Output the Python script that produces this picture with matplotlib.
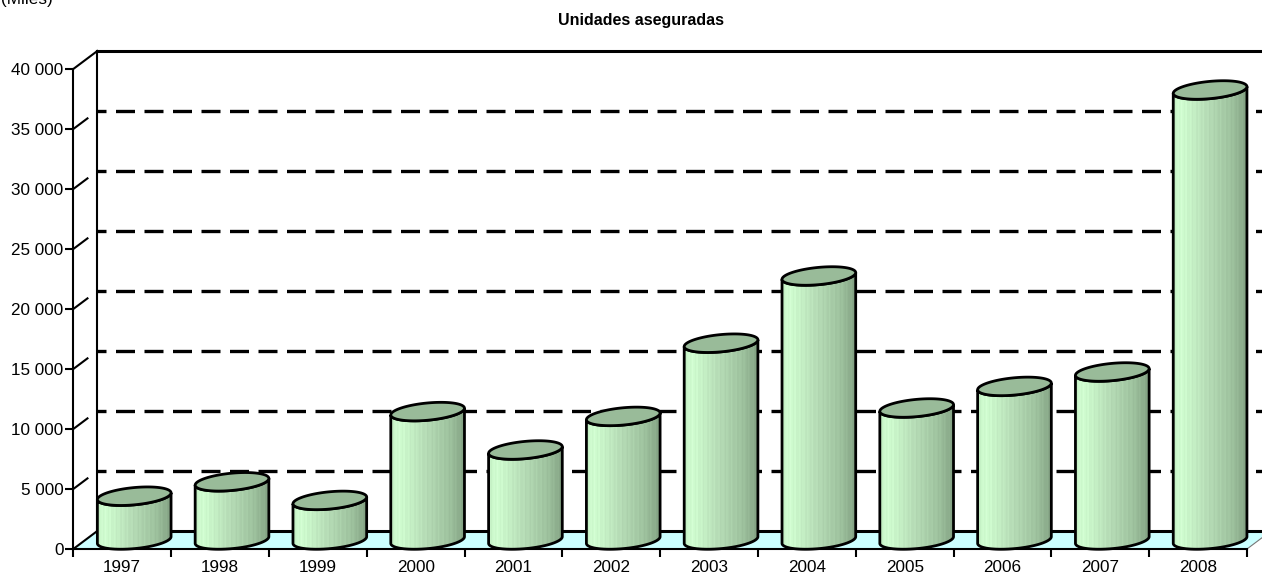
import numpy as np
import matplotlib.pyplot as plt
from matplotlib.patches import Polygon
from matplotlib.colors import LinearSegmentedColormap

plt.rcParams['font.family'] = ['Liberation Sans', 'DejaVu Sans']

# Unidades aseguradas por año (miles)
years = ['1997', '1998', '1999', '2000', '2001', '2002',
         '2003', '2004', '2005', '2006', '2007', '2008']
units = [3650, 4850, 3300, 10700, 7500, 10300,
         16400, 22000, 11000, 12800, 14000, 37500]
yticks = [0, 5000, 10000, 15000, 20000, 25000, 30000, 35000, 40000]
ytick_labels = ['0', '5 000', '10 000', '15 000', '20 000',
                '25 000', '30 000', '35 000', '40 000']

W, H = 1262, 579
fig = plt.figure(figsize=(W / 100, H / 100), dpi=100)
ax = fig.add_axes([73.3 / W, 30 / H, 1173.7 / W, 480 / H])
n = len(years)
ymax = 40000

# size of one pixel in data units
sx = n / 1173.7
sy = ymax / 480.0
DX, DY = 24 * sx, 18 * sy        # depth of the 3d box

nc = dict(clip_on=False)

# floor
floor = Polygon([(0, 0), (n, 0), (n + DX, DY), (DX, DY)], closed=True,
                facecolor='#ccffff', edgecolor='none', zorder=1, **nc)
ax.add_patch(floor)
ax.plot([n, n + DX], [0, DY], color='#777777', lw=0.8, zorder=1, **nc)
ax.plot([0, DX], [0, DY], color='black', lw=1.5, zorder=2, **nc)
ax.plot([DX, n + DX], [DY, DY], color='black', lw=2.2, zorder=2, **nc)

# walls
ax.plot([DX, DX], [DY, ymax + DY], color='black', lw=1.5, zorder=2, **nc)
ax.plot([DX, n + DX], [ymax + DY, ymax + DY], color='black', lw=2.2, zorder=2, **nc)
ax.plot([0, DX], [ymax, ymax + DY], color='black', lw=1.5, zorder=2, **nc)

# dashed gridlines, back wall and side wall
for v in yticks[1:-1]:
    ax.plot([DX, n + DX], [v + DY, v + DY], color='black', lw=2.4,
            linestyle=(3, (5.7, 2.85)), zorder=2, **nc)
    ax.plot([0, DX], [v, v + DY], color='black', lw=1.5,
            linestyle=(0, (9, 20)), zorder=2, **nc)

# cylinder shading
stops = [(0.0, (0.78, 0.95, 0.78)), (0.1, (0.82, 1.0, 0.82)),
         (0.45, (0.72, 0.87, 0.72)), (0.8, (0.62, 0.76, 0.62)),
         (1.0, (0.52, 0.64, 0.52))]
cmap = LinearSegmentedColormap.from_list('cyl', stops)
ncol = 120
shade = cmap(np.linspace(0, 1, ncol))[:, :3]
ripple = 1 + 0.03 * np.cos(np.arange(ncol) * 2.3) + 0.02 * np.cos(np.arange(ncol) * 0.9)
shade = np.clip(shade * ripple[:, None], 0, 1)
shade = shade[None, :, :]


def ellipse(cx, cy, a=37.0, b=8.6, rot=np.radians(5.5), m=360):
    t = np.linspace(0, 2 * np.pi, m, endpoint=False)
    px = a * np.cos(t) * np.cos(rot) - b * np.sin(t) * np.sin(rot)
    py = a * np.cos(t) * np.sin(rot) + b * np.sin(t) * np.cos(rot)
    x = cx + px * sx
    y = cy + py * sy
    i0, i1 = np.argmin(px), np.argmax(px)
    order = np.roll(np.arange(m), -i0)
    k = (i1 - i0) % m + 1
    low = order[:k]
    return x, y, x[low], y[low]


for i, v in enumerate(units):
    cx = i + 0.5 + DX / 2
    y0 = DY / 2
    y1 = DY / 2 + v
    bx, by, blx, bly = ellipse(cx, y0)
    tx, ty, tlx, tly = ellipse(cx, y1)
    body = np.column_stack([np.concatenate([blx, tlx[::-1]]),
                            np.concatenate([bly, tly[::-1]])])
    bpatch = Polygon(body, closed=True, facecolor='none', edgecolor='black',
                     lw=2.0, zorder=4 + i, **nc)
    ax.add_patch(bpatch)
    img = ax.imshow(shade, extent=[blx.min(), blx.max(), bly.min(), tly.max()],
                    aspect='auto', interpolation='bilinear', zorder=3 + i)
    img.set_clip_path(bpatch)
    top = Polygon(np.column_stack([tx, ty]), closed=True, facecolor='#99bb99',
                  edgecolor='black', lw=2.0, zorder=4 + i, **nc)
    ax.add_patch(top)

ax.set_xlim(0, n)
ax.set_ylim(0, ymax)

# front axes
for s in ['top', 'right']:
    ax.spines[s].set_visible(False)
for s in ['left', 'bottom']:
    ax.spines[s].set_linewidth(1.5)
    ax.spines[s].set_zorder(30)
ax.set_yticks(yticks)
ax.set_yticklabels(ytick_labels)
ax.tick_params(axis='y', length=5.5, width=1.5, pad=1.5, labelsize=12.3)
ax.set_xticks(np.arange(n + 1))
ax.set_xticklabels([])
ax.set_xticks(np.arange(n) + 0.5, minor=True)
ax.set_xticklabels(years, minor=True)
ax.tick_params(axis='x', which='major', length=5.5, width=1.5)
ax.tick_params(axis='x', which='minor', length=0, pad=8, labelsize=12.3)

fig.text(641 / W, 1 - 21 / H, 'Unidades aseguradas', ha='center', va='center',
         fontweight='bold', fontsize=11.5)
fig.text(1 / W, 1 - 4 / H, '(Miles)', ha='left', va='baseline', fontsize=12.3)

fig.savefig('out.png', dpi=100)
